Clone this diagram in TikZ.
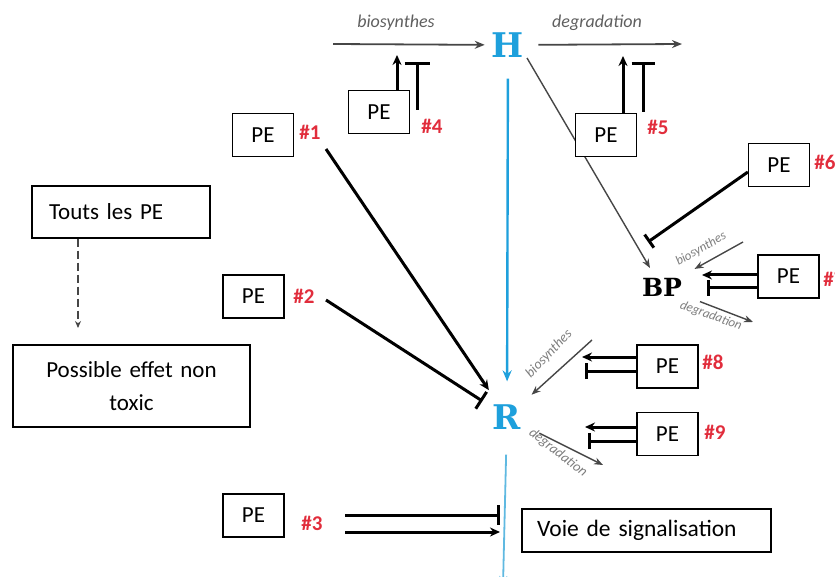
\documentclass[tikz,border=0pt]{standalone}
\usepackage{fontspec}
\setmainfont{Carlito}
\newfontfamily\slabfont{DejaVu Serif}
\usetikzlibrary{arrows.meta}
\definecolor{hormone}{RGB}{30,160,220}
\definecolor{hormonelight}{RGB}{95,185,225}
\definecolor{numred}{RGB}{225,45,60}
\definecolor{pathgray}{RGB}{70,70,70}
\definecolor{labelgray}{RGB}{95,95,95}
\definecolor{smallgray}{RGB}{125,125,125}
\begin{document}
\begin{tikzpicture}[x=1pt,y=-1pt,
  box/.style={draw=black,fill=white,line width=1.3pt,inner sep=0pt},
  pebox/.style={box,minimum width=61pt,minimum height=43pt,font=\fontsize{23}{25}\selectfont},
  num/.style={text=numred,font=\bfseries\fontsize{21}{24}\selectfont,inner sep=0pt},
  mol/.style={font=\slabfont\bfseries\fontsize{34}{34}\selectfont,inner sep=1pt},
  toplabel/.style={text=labelgray,font=\itshape\fontsize{18}{20}\selectfont,inner sep=0pt},
  sidelabel/.style={text=smallgray,font=\itshape\fontsize{14}{16}\selectfont,inner sep=0pt},
  pathway/.style={draw=pathgray,line width=1.8pt,-{Stealth[length=10pt,width=8pt]}},
  thinpath/.style={draw=pathgray,line width=1.4pt,-{Stealth[length=9pt,width=7pt]}},
  act/.style={draw=black,line width=3pt,-{Stealth[length=10pt,width=9pt]}},
  inh/.style={draw=black,line width=3pt,-{Bar[width=20pt]}},
  inhsmall/.style={draw=black,line width=3pt,-{Bar[width=16pt]}},
  flow/.style={line width=2.4pt,-{Stealth[length=11pt,width=9pt]}}
]
\useasboundingbox (0,0) rectangle (835,577);

% hormone, receptor and binding protein
\node[mol,text=hormone] (H) at (508,45) {H};
\node[mol,text=hormone] (R) at (507,417) {R};
\node[mol,text=black,font=\slabfont\bfseries\fontsize{25}{25}\selectfont] (BP) at (662,287) {BP};

% hormone to binding protein (runs behind the PE #5 box)
\coordinate (hbStart) at (527,58);
\coordinate (hbEnd) at (650,268);
\draw[thinpath] (hbStart) -- (hbEnd);

% hormone synthesis and breakdown
\coordinate (synStart) at (333,44);
\coordinate (degEnd) at (682,44);
\draw[pathway,shorten >=6pt] (synStart) -- (H);
\draw[pathway,shorten <=13pt] (H) -- (degEnd);
\node[toplabel] (synLbl) at (396,23) {biosynthes};
\node[toplabel] (degLbl) at (597,23) {degradation};

% hormone to receptor and the signalling pathway
\draw[flow,draw=hormone,shorten <=20pt,shorten >=22pt] (H) -- (R);
\coordinate (sigEnd) at (503,586);
\draw[draw=hormonelight,line width=1.8pt,-{Stealth[length=10pt,width=8pt]},shorten <=24pt] (R) -- (sigEnd);

% receptor synthesis and breakdown
\coordinate (rSynStart) at (592,340);
\coordinate (rDegEnd) at (603,465);
\draw[thinpath,shorten >=13pt] (rSynStart) -- (R);
\draw[thinpath,shorten <=19pt] (R) -- (rDegEnd);
\node[sidelabel,rotate=46] (rSynLbl) at (549,354) {biosynthes};
\node[sidelabel,rotate=-38] (rDegLbl) at (558,453) {degradation};

% binding protein synthesis and breakdown
\coordinate (bpSynStart) at (743,242);
\coordinate (bpDegEnd) at (753,322);
\draw[thinpath,shorten >=16pt] (bpSynStart) -- (BP);
\draw[thinpath,shorten <=18pt] (BP) -- (bpDegEnd);
\node[sidelabel,rotate=30,font=\itshape\fontsize{13}{15}\selectfont] (bpSynLbl) at (701,249) {biosynthes};
\node[sidelabel,rotate=-20,font=\itshape\fontsize{13}{15}\selectfont] (bpDegLbl) at (711,316) {degradation};

% PE boxes
\node[pebox] (pe1) at (263,135) {PE};
\node[pebox] (pe2) at (253.5,296.5) {PE};
\node[pebox] (pe3) at (253.5,515.5) {PE};
\node[pebox] (pe4) at (379,112) {PE};
\node[pebox] (pe5) at (606,135) {PE};
\node[pebox] (pe6) at (779,165) {PE};
\node[pebox] (pe7) at (788.5,276.5) {PE};
\node[pebox] (pe8) at (667.5,366.5) {PE};
\node[pebox] (pe9) at (667.5,434) {PE};

% PE numbers
\node[num] (n1) at (310,132) {\#1};
\node[num] (n2) at (304,296) {\#2};
\node[num] (n3) at (312,523) {\#3};
\node[num] (n4) at (432,126) {\#4};
\node[num] (n5) at (658,127) {\#5};
\node[num] (n6) at (825,162) {\#6};
\node[num] (n7) at (834,279) {\#7};
\node[num] (n8) at (713,362) {\#8};
\node[num] (n9) at (715,432) {\#9};

% #1 and #2 act on the receptor
\coordinate (a1) at (326,149);
\coordinate (a2) at (326,300);
\draw[act,shorten >=16pt] (a1) -- (R);
\draw[inh,shorten >=11pt] (a2) -- (R);

% #3 acts on the signalling pathway
\coordinate (a3i) at (345,515);
\coordinate (b3i) at (500,515);
\coordinate (a3a) at (345,532);
\coordinate (b3a) at (500,532);
\draw[inh] (a3i) -- (b3i);
\draw[act] (a3a) -- (b3a);

% #4 acts on hormone synthesis
\coordinate (b4a) at (397,55);
\coordinate (a4i) at (417,110);
\coordinate (b4i) at (417,62);
\draw[act] ([xshift=18pt]pe4.north) -- (b4a);
\draw[draw=black,line width=3pt,-{Bar[width=25pt]}] (a4i) -- (b4i);

% #5 acts on hormone breakdown
\coordinate (b5a) at (623,56);
\coordinate (a5i) at (643,112);
\coordinate (b5i) at (643,62);
\draw[act] ([xshift=17pt]pe5.north) -- (b5a);
\draw[draw=black,line width=3pt,-{Bar[width=23pt]}] (a5i) -- (b5i);

% #6 blocks hormone binding
\coordinate (b6i) at (648,242);
\draw[inhsmall] ([yshift=-7pt]pe6.west) -- (b6i);

% #7 acts on binding protein synthesis
\coordinate (b7a) at (702,275);
\coordinate (b7i) at (707,288);
\draw[act] ([yshift=1.5pt]pe7.west) -- (b7a);
\draw[inhsmall] ([yshift=-11.5pt]pe7.west) -- (b7i);

% #8 and #9 act on receptor synthesis and breakdown
\coordinate (b8a) at (582,357);
\coordinate (b8i) at (585,371);
\draw[act] ([yshift=9.5pt]pe8.west) -- (b8a);
\draw[inhsmall] ([yshift=-4.5pt]pe8.west) -- (b8i);
\coordinate (b9a) at (585,427);
\coordinate (b9i) at (588,441);
\draw[act] ([yshift=7pt]pe9.west) -- (b9a);
\draw[inhsmall] ([yshift=-7pt]pe9.west) -- (b9i);

% all PE: possible non-toxic effect
\node[box,minimum height=52pt,text width=144pt,inner xsep=17pt,align=left,
      font=\fontsize{23}{25}\selectfont] (touts) at (121,212) {Touts\ les PE};
\node[box,minimum width=237pt,minimum height=82pt,text width=225pt,align=center,
      font=\fontsize{23}{33}\selectfont] (possible) at (131.5,386) {Possible effet non\\toxic};
\coordinate (dashEnd) at (78,328);
\draw[draw=pathgray,line width=1.6pt,dash pattern=on 8pt off 4pt,-{Stealth[length=7pt,width=6pt]}]
  ([xshift=-43pt]touts.south) -- (dashEnd);

% signalling pathway box
\node[box,minimum height=43pt,text width=219pt,inner xsep=15pt,align=left,
      font=\fontsize{23.5}{25}\selectfont] (voie) at (646.5,530.5) {Voie de signalisation};
\end{tikzpicture}
\end{document}
